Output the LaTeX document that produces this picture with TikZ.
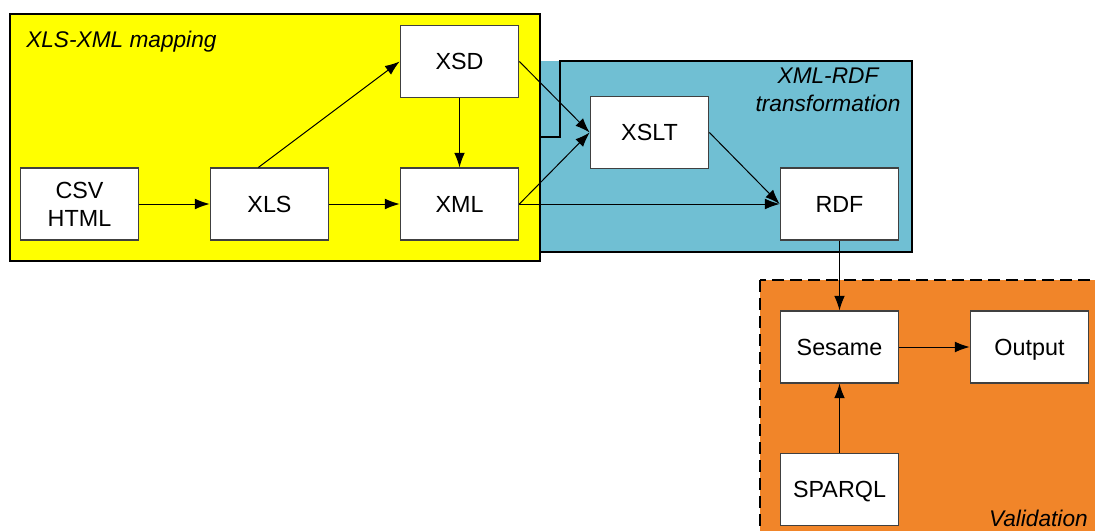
\documentclass[tikz,border=0pt]{standalone}
\usepackage{fontspec}
\setmainfont{Liberation Sans}
\usetikzlibrary{arrows.meta}

\definecolor{mapyellow}{RGB}{255,255,0}
\definecolor{transblue}{RGB}{112,191,211}
\definecolor{validorange}{RGB}{241,133,41}
\definecolor{boxborder}{RGB}{64,64,64}

\begin{document}
\begin{tikzpicture}[x=0.75pt,y=0.75pt,yscale=-1,xscale=1,
	stage/.style={draw=boxborder,fill=white,line width=0.8pt,minimum width=89pt,minimum height=54pt,inner sep=0pt,align=center,font=\fontsize{17.5}{21}\selectfont},
	oneline/.style={text height=12.5pt,text depth=0pt},
	caption/.style={inner sep=0.75pt,font=\fontsize{17}{21}\selectfont\itshape},
	flow/.style={-{Latex[length=11pt,width=8pt]},line width=0.75pt}]
\useasboundingbox (0,0) rectangle (1095,531);

%Shape: Rectangle [XML-RDF transformation]
\fill [transblue] (535,61) rectangle (912,252) ;
\draw [line width=0.8pt] (541,137) -- (560,137) -- (560,61) -- (912,61) -- (912,252) -- (541,252) ;
%Shape: Rectangle [XLS-XML mapping]
\draw [fill=mapyellow,line width=0.8pt] (10,14) rectangle (540,261) ;
%Shape: Rectangle [Validation]
\draw [fill=validorange,dashed,dash pattern={on 9pt off 4.5pt},line width=1.6pt] (760,280) rectangle (1110,545) ;

% Text Node
\node (mapping) [caption,anchor=west] at (25,42) {XLS-XML mapping};
% Text Node
\node (transf) [caption,anchor=north,align=center] at (828,67) {XML-RDF\\transformation};
% Text Node
\node (valid) [caption,anchor=base east] at (1089,526) {Validation};

% Stages
\node (csv) [stage] at (79.5,204) {CSV\\HTML};
\node (xls) [stage,oneline] at (269.5,204) {XLS};
\node (xml) [stage,oneline] at (459.5,204) {XML};
\node (xsd) [stage,oneline] at (459.5,61.5) {XSD};
\node (xslt) [stage,oneline] at (649.5,132.5) {XSLT};
\node (rdf) [stage,oneline] at (839.5,204) {RDF};
\node (sesame) [stage,oneline] at (839.5,347) {Sesame};
\node (output) [stage,oneline] at (1029.5,347) {Output};
\node (sparql) [stage,oneline] at (839.5,489.5) {SPARQL};

% Connectors
\draw [flow] (csv) -- (xls) ;
\draw [flow] (xls.107) -- (xsd.west) ;
\draw [flow] (xls) -- (xml) ;
\draw [flow] (xsd) -- (xml) ;
\draw [flow] (xsd.east) -- (xslt.west) ;
\draw [flow] (xml.east) -- (xslt.west) ;
\draw [flow] (xml.east) -- (rdf.west) ;
\draw [flow] (xslt.east) -- (rdf.west) ;
\draw [flow] (rdf) -- (sesame) ;
\draw [flow] (sesame) -- (output) ;
\draw [flow] (sparql) -- (sesame) ;

\end{tikzpicture}
\end{document}
